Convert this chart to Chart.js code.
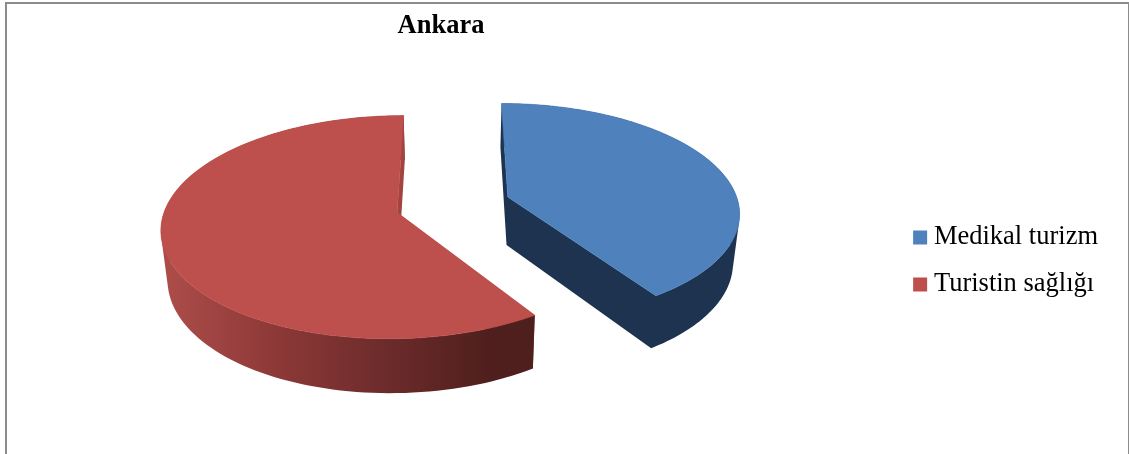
<!DOCTYPE html>
<html>
<head>
<meta charset="utf-8">
<style>
html,body{margin:0;padding:0;background:#fff;overflow:hidden}
#wrap{position:relative;width:1129px;height:454px}
#frame{position:absolute;left:5px;top:2px;width:1121px;height:452px;border-left:2px solid #8c8c8c;border-top:2px solid #8c8c8c;border-right:3px solid #8c8c8c;box-sizing:content-box;pointer-events:none}
canvas{position:absolute;left:0;top:0;filter:blur(0.35px)}
</style>
<script src="https://cdn.jsdelivr.net/npm/chart.js@4/dist/chart.umd.js"></script>
</head>
<body>
<div id="wrap"><canvas id="c" width="1129" height="454"></canvas><div id="frame"></div></div>
<script>
const chartTitle = 'Ankara';
const categories = ['Medikal turizm', 'Turistin sağlığı'];
const shares = [40.7, 59.3];
const topColors = ['#4f81bd', '#bd4f4c'];
const wallColors = ['#1d3350', '#a34340'];
const explode = 0.25;

// camera used to tilt the library's pie into perspective
const cam = {cx: 453, cy: 204.7, fx: 231, fy: 107.6, k: 0.13, sx: 0.977, ya: 1.045, yb: 39.2};
const project = (X, Y) => {
  const d = 1 - cam.k * Y;
  return {x: cam.cx + cam.fx * X / d, y: cam.cy + cam.fy * Y / d};
};
const drop = p => ({x: cam.cx + cam.sx * (p.x - cam.cx), y: cam.ya * p.y + cam.yb});

function signedArea(pts) {
  let s = 0;
  pts.forEach((p, i) => {
    const q = pts[(i + 1) % pts.length];
    s += p.x * q.y - q.x * p.y;
  });
  return s;
}

function paintPolys(ctx, polys, fill, edge) {
  ctx.beginPath();
  polys.forEach(poly => {
    const pts = signedArea(poly) < 0 ? poly.slice().reverse() : poly;
    pts.forEach((p, i) => i ? ctx.lineTo(p.x, p.y) : ctx.moveTo(p.x, p.y));
    ctx.closePath();
  });
  ctx.fillStyle = fill;
  ctx.fill('nonzero');
  if (edge) {
    ctx.strokeStyle = fill;
    ctx.lineWidth = edge;
    ctx.lineJoin = 'round';
    ctx.stroke();
  }
}

const pie3d = {
  id: 'pie3d',
  beforeDatasetsDraw(chart) {
    const ctx = chart.ctx;
    const arcs = chart.getDatasetMeta(0).data;
    [1, 0].forEach(i => {
      const el = arcs[i];
      const e = el.options.offset / el.outerRadius;
      const mid = (el.startAngle + el.endAngle) / 2;
      const ox = e * Math.cos(mid), oy = e * Math.sin(mid);
      const apex = project(ox, oy);
      const rim = [];
      const n = 120;
      for (let j = 0; j <= n; j++) {
        const a = el.startAngle + (el.endAngle - el.startAngle) * j / n;
        rim.push(project(ox + Math.cos(a), oy + Math.sin(a)));
      }
      const wallStart = [apex, rim[0], drop(rim[0]), drop(apex)];
      const wallEnd = [apex, rim[n], drop(rim[n]), drop(apex)];
      const strips = [];
      for (let j = 0; j < n; j++) {
        strips.push([rim[j], rim[j + 1], drop(rim[j + 1]), drop(rim[j])]);
      }
      if (i === 1) {
        const g = ctx.createLinearGradient(168, 0, 492, 0);
        g.addColorStop(0, '#ac4c49');
        g.addColorStop(0.35, '#8b3837');
        g.addColorStop(0.7, '#6a2a2a');
        g.addColorStop(1, '#4e1f1d');
        paintPolys(ctx, [wallStart], wallColors[i]);
        paintPolys(ctx, strips, g);
        paintPolys(ctx, [wallEnd], wallColors[i]);
      } else {
        paintPolys(ctx, strips.concat([wallStart, wallEnd]), wallColors[i]);
      }
      paintPolys(ctx, [[apex].concat(rim)], topColors[i], 0.6);
    });
    return false;
  },
  afterLayout(chart) {
    const t = chart.titleBlock;
    t.left = 341; t.right = 541;
    const l = chart.legend;
    l.left -= 11; l.right -= 11;
    l.top += 34; l.bottom += 34;
    l.legendHitBoxes.forEach(b => { b.left -= 11; b.top += 34; });
  }
};

new Chart(document.getElementById('c'), {
  type: 'pie',
  plugins: [pie3d],
  data: {
    labels: categories,
    datasets: [{
      data: shares,
      backgroundColor: topColors,
      borderWidth: 0,
      offset: c => c.chart.chartArea ? c.chart.chartArea.height * explode / (2 + explode) : 0
    }]
  },
  options: {
    responsive: false,
    animation: false,
    rotation: 0,
    plugins: {
      title: {
        display: true,
        text: chartTitle,
        color: '#000',
        font: {family: '"Liberation Serif"', size: 26.5, weight: 'bold', lineHeight: 1},
        padding: {top: 13, bottom: 24}
      },
      legend: {
        position: 'right',
        labels: {
          color: '#000',
          font: {family: '"Liberation Serif"', size: 26.5},
          usePointStyle: true,
          pointStyle: 'rect',
          boxWidth: 1,
          boxHeight: 14,
          padding: 20.5
        }
      },
      tooltip: {enabled: false}
    },
    layout: {padding: {right: 10}}
  }
});
</script>
</body>
</html>
